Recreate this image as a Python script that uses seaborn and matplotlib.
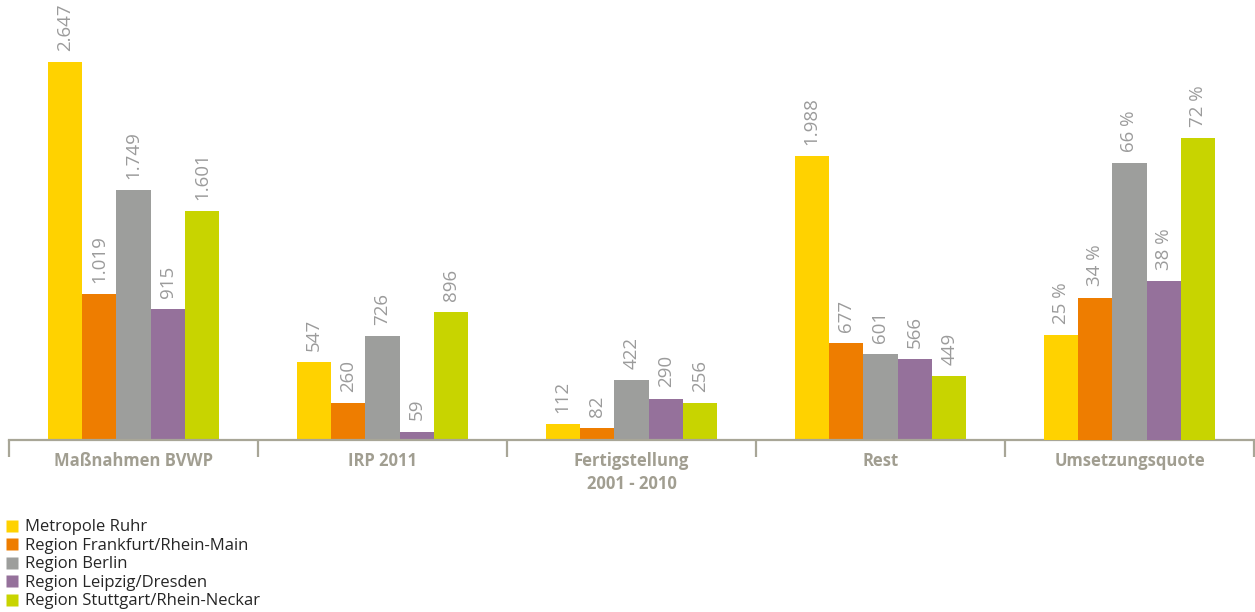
import matplotlib
matplotlib.use("Agg")
import matplotlib.pyplot as plt
from matplotlib.lines import Line2D
from matplotlib.ticker import FixedLocator
import numpy as np
import pandas as pd
import seaborn as sns

# Categories along the x axis
categories = ["Maßnahmen BVWP", "IRP 2011", "Fertigstellung\n2001 - 2010", "Rest", "Umsetzungsquote"]
regions = [
    "Metropole Ruhr",
    "Region Frankfurt/Rhein-Main",
    "Region Berlin",
    "Region Leipzig/Dresden",
    "Region Stuttgart/Rhein-Neckar",
]
colors = ["#FFD200", "#EE7D00", "#9D9E9C", "#95719B", "#C8D400"]

# Counts per region (first four categories)
massnahmen_bvwp = [2647, 1019, 1749, 915, 1601]
irp_2011 = [547, 260, 726, 59, 896]
fertigstellung = [112, 82, 422, 290, 256]
rest = [1988, 677, 601, 566, 449]
# Share in percent (last category)
umsetzungsquote = [25, 34, 66, 38, 72]

count_rows = []
for cat, vals in zip(categories[:4], [massnahmen_bvwp, irp_2011, fertigstellung, rest]):
    for reg, v in zip(regions, vals):
        count_rows.append({"Kategorie": cat, "Region": reg, "Wert": v})
counts = pd.DataFrame(count_rows)
quote = pd.DataFrame({"Kategorie": categories[4], "Region": regions, "Wert": umsetzungsquote})

axis_col = "#A8A697"
cat_col = "#A19E91"
val_col = "#9B9B9B"

sns.set_theme(style="white")
plt.rcParams["font.family"] = ["Open Sans", "DejaVu Sans"]

fig = plt.figure(figsize=(12.55, 6.12), dpi=100)
ax = fig.add_axes([9 / 1255, (612 - 440) / 612, 1245 / 1255, 440 / 612])
ax2 = ax.twinx()

palette = dict(zip(regions, colors))
sns.barplot(data=counts, x="Kategorie", y="Wert", hue="Region", order=categories,
            hue_order=regions, palette=palette, width=0.69, saturation=1,
            ax=ax, legend=False, errorbar=None)
sns.barplot(data=quote, x="Kategorie", y="Wert", hue="Region", order=categories,
            hue_order=regions, palette=palette, width=0.69, saturation=1,
            ax=ax2, legend=False, errorbar=None)

for p in list(ax.patches) + list(ax2.patches):
    p.set_edgecolor("none")
    p.set_linewidth(0)

ax.set_ylim(0, 3081)
ax2.set_ylim(0, 105)
ax.set_xlim(-0.5, 4.5)

def de_number(v):
    return f"{int(round(v)):,}".replace(",", ".")

for cont in ax.containers:
    ax.bar_label(cont, fmt=de_number, rotation=90, padding=8, color=val_col, fontsize=13.5)
for cont in ax2.containers:
    ax2.bar_label(cont, fmt=lambda v: f"{int(round(v))} %", rotation=90, padding=8,
                  color=val_col, fontsize=13.5)

for a in (ax, ax2):
    a.set_xlabel("")
    a.set_ylabel("")
    a.set_yticks([])
    for s in ("top", "left", "right"):
        a.spines[s].set_visible(False)
    a.spines["bottom"].set_visible(False)
    a.grid(False)

ax.spines["bottom"].set_visible(True)
ax.spines["bottom"].set_color(axis_col)
ax.spines["bottom"].set_linewidth(1.6)
ax.patch.set_alpha(0)

ax.set_xticks(range(len(categories)))
ax.set_xticklabels(categories, fontsize=12, fontweight="bold", color=cat_col, linespacing=1.3)
ax.tick_params(axis="x", which="major", length=0, pad=9)
ax.xaxis.set_minor_locator(FixedLocator(np.arange(-0.5, 5, 1.0)))
ax.tick_params(axis="x", which="minor", length=12, width=1.6, color=axis_col, direction="out")
ax.tick_params(axis="x", which="minor", bottom=True)
ax2.tick_params(axis="x", which="both", length=0, labelbottom=False)

handles = [Line2D([0], [0], marker="s", linestyle="none", markersize=9,
                  markerfacecolor=c, markeredgecolor="none") for c in colors]
fig.legend(handles, regions, loc="lower left", bbox_to_anchor=(-0.004, -0.012),
           frameon=False, fontsize=12, handlelength=0.8, handletextpad=0.4,
           labelspacing=0.15, borderaxespad=0.2)

fig.savefig("out.png", dpi=100)
